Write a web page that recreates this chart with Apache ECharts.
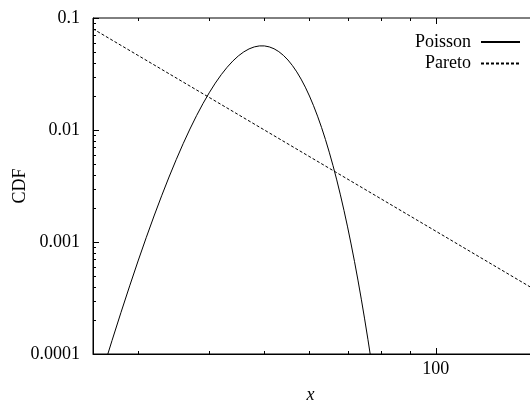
<!DOCTYPE html>
<html>
<head>
<meta charset="utf-8">
<script src="https://cdn.jsdelivr.net/npm/echarts@6/dist/echarts.min.js"></script>
<style>
html,body{margin:0;padding:0;background:#fff;}
#chart{width:530px;height:401px;}
</style>
</head>
<body>
<div id="chart"></div>
<script>
// ---- data ----
const seriesNames = ['Poisson', 'Pareto'];
const poissonX = [25,26,27,28,29,30,31,32,33,34,35,36,37,38,39,40,41,42,43,44,45,46,47,48,49,50,51,52,53,54,55,56,57,58,59,60,61,62,63,64,65,66,67,68,69,70,71,72,73,74,75,76,77,78];
const poissonY = [0.0000370,0.0000712,0.0001319,0.0002356,0.000406,0.000677,0.001092,0.001707,0.002586,0.003803,0.005433,0.007546,0.01020,0.01342,0.01720,0.02150,0.02622,0.03121,0.03629,0.04124,0.04583,0.04981,0.05299,0.05520,0.05633,0.05633,0.05523,0.05311,0.05010,0.04639,0.04217,0.03765,0.03303,0.02847,0.02413,0.02011,0.01648,0.01329,0.01055,0.008242,0.006340,0.004803,0.003585,0.002636,0.001910,0.001364,0.0009606,0.0006671,0.0004569,0.0003087,0.0002058,0.0001354,0.0000879,0.0000564];
const paretoX = [25, 50, 100, 150];
const paretoY = [0.08, 0.01, 0.00125, 0.00037];
const xMajorTicks = [100];
const xMinorTicks = [30, 40, 50, 60, 70, 80, 90];
const xTickLabels = ['100'];
const yMajorTicks = [0.0001, 0.001, 0.01, 0.1];
const yMinorTicks = [0.0002,0.0003,0.0004,0.0005,0.0006,0.0007,0.0008,0.0009,
                     0.002,0.003,0.004,0.005,0.006,0.007,0.008,0.009,
                     0.02,0.03,0.04,0.05,0.06,0.07,0.08,0.09];
const yTickLabels = ['0.0001', '0.001', '0.01', '0.1'];
const xRange = [25, 150];
const yRange = [0.0001, 0.1];

// ---- build ----
const FONT = 'Liberation Serif';
const zip = (xs, ys) => xs.map((x, i) => [x, ys[i]]);

const tickData = [];
xMajorTicks.forEach(v => tickData.push([v, yRange[0], 0, 1]));
xMinorTicks.forEach(v => tickData.push([v, yRange[0], 0, 0]));
yMajorTicks.forEach(v => tickData.push([xRange[0], v, 1, 1]));
yMinorTicks.forEach(v => tickData.push([xRange[0], v, 1, 0]));

const chart = echarts.init(document.getElementById('chart'), null, {renderer: 'canvas'});
chart.setOption({
  animation: false,
  backgroundColor: '#fff',
  textStyle: {fontFamily: FONT},
  grid: {left: 93, top: 18, height: 336, width: 443, outerBoundsMode: 'none', containLabel: false,
         show: true, borderColor: '#000', borderWidth: 1, backgroundColor: 'transparent'},
  legend: {
    data: seriesNames,
    orient: 'vertical',
    right: 9,
    top: 33,
    padding: 0,
    align: 'right',
    itemWidth: 39,
    itemHeight: 10,
    itemGap: 3.5,
    itemStyle: {opacity: 0},
    textStyle: {fontFamily: FONT, fontSize: 18, color: '#000', lineHeight: 18, padding: [0, 5, 0, 0]}
  },
  xAxis: {
    type: 'log', logBase: 10, min: xRange[0], max: xRange[1],
    name: 'x', nameLocation: 'middle', nameGap: 32, nameMoveOverlap: false,
    nameTextStyle: {fontFamily: FONT, fontSize: 18, fontStyle: 'italic', color: '#000', padding: [0, 8, 0, 0]},
    axisLine: {show: true, lineStyle: {color: '#000', width: 1}},
    axisTick: {show: false},
    splitLine: {show: false},
    axisLabel: {
      fontFamily: FONT, fontSize: 18, color: '#000', margin: 6,
      formatter: function (v) {
        const i = xMajorTicks.findIndex(t => Math.abs(t - v) / t < 1e-6);
        return i >= 0 ? xTickLabels[i] : '';
      }
    }
  },
  yAxis: {
    type: 'log', logBase: 10, min: yRange[0], max: yRange[1],
    name: 'CDF', nameLocation: 'middle', nameGap: 64, nameMoveOverlap: false,
    nameTextStyle: {fontFamily: FONT, fontSize: 18, color: '#000'},
    axisLine: {show: true, lineStyle: {color: '#000', width: 1}},
    axisTick: {show: false},
    splitLine: {show: false},
    axisLabel: {
      fontFamily: FONT, fontSize: 18, color: '#000', margin: 13,
      formatter: function (v) {
        const i = yMajorTicks.findIndex(t => Math.abs(t - v) / t < 1e-6);
        return i >= 0 ? yTickLabels[i] : '';
      }
    }
  },
  series: [
    {
      name: seriesNames[0], type: 'line', data: zip(poissonX, poissonY),
      symbol: 'none', clip: true,
      lineStyle: {color: '#000', width: 1, type: 'solid'},
      itemStyle: {color: '#000'}
    },
    {
      name: seriesNames[1], type: 'line', data: zip(paretoX, paretoY),
      symbol: 'none', clip: true,
      lineStyle: {color: '#000', width: 1, type: [3, 2]},
      itemStyle: {color: '#000'}
    },
    {
      name: 'ticks', type: 'custom', data: tickData, clip: false, silent: true,
      encode: {x: 0, y: 1},
      renderItem: function (params, api) {
        const cs = params.coordSys;
        const kind = api.value(2);
        const len = api.value(3) ? 6 : 3;
        const st = {stroke: '#000', lineWidth: 1};
        if (kind === 0) {
          const p = api.coord([api.value(0), yRange[0]]);
          const x = Math.round(p[0]) + 0.5;
          const b = cs.y + cs.height, t = cs.y;
          return {type: 'group', children: [
            {type: 'line', shape: {x1: x, y1: b, x2: x, y2: b - len}, style: st},
            {type: 'line', shape: {x1: x, y1: t, x2: x, y2: t + len}, style: st}
          ]};
        } else {
          const p = api.coord([xRange[0], api.value(1)]);
          const y = Math.round(p[1]) + 0.5;
          const l = cs.x, r = cs.x + cs.width;
          return {type: 'group', children: [
            {type: 'line', shape: {x1: l, y1: y, x2: l + len, y2: y}, style: st},
            {type: 'line', shape: {x1: r, y1: y, x2: r - len, y2: y}, style: st}
          ]};
        }
      }
    }
  ]
});
</script>
</body>
</html>
